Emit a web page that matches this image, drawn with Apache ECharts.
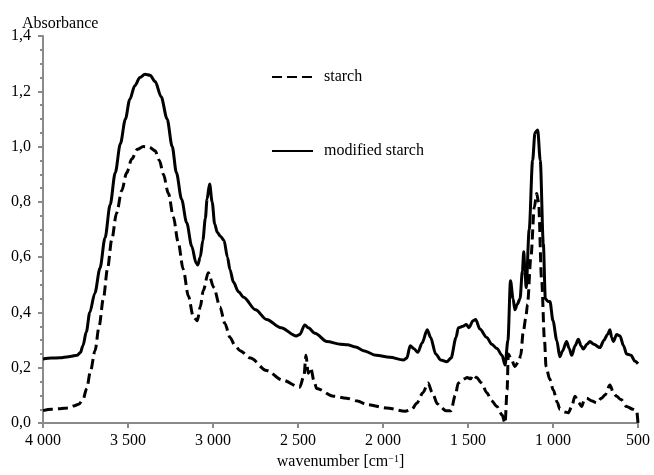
<!DOCTYPE html>
<html>
<head>
<meta charset="utf-8">
<script src="https://cdn.jsdelivr.net/npm/echarts@6/dist/echarts.min.js"></script>
<style>html,body{margin:0;padding:0;background:#fff}#c{width:654px;height:475px}</style>
</head>
<body>
<div id="c"></div>
<script>
const seriesNames = ['starch', 'modified starch'];
const xTicks = [4000, 3500, 3000, 2500, 2000, 1500, 1000, 500];
const yTicks = [0, 0.2, 0.4, 0.6, 0.8, 1.0, 1.2, 1.4];

const starchWn = [4000,3950,3900,3850,3820,3790,3765,3743,3720,3694,3670,3645,3620,3596,3567,3537,3508,3478,3445,3410,3375,3341,3315,3292,3262,3233,3205,3175,3145,3116,3092,3075,3057,3028,2995,2959,2930,2900,2870,2841,2780,2685,2590,2490,2465,2453,2440,2425,2405,2390,2290,2215,2150,2095,1980,1870,1830,1800,1765,1735,1710,1680,1665,1630,1600,1575,1557,1520,1505,1485,1470,1450,1420,1390,1360,1330,1300,1282,1270,1263,1245,1224,1200,1190,1175,1160,1150,1130,1110,1096,1085,1067,1050,1041,1020,998,975,959,930,910,890,871,850,832,815,802,770,743,715,694,665,645,626,600,567,530,508,500];
const starchAbs = [0.045,0.05,0.052,0.055,0.062,0.068,0.085,0.125,0.19,0.262,0.35,0.45,0.56,0.662,0.76,0.84,0.905,0.955,0.99,1.0,0.998,0.985,0.95,0.9,0.83,0.745,0.655,0.556,0.46,0.385,0.37,0.42,0.48,0.544,0.49,0.42,0.36,0.31,0.28,0.262,0.235,0.19,0.155,0.13,0.17,0.245,0.18,0.2,0.15,0.125,0.097,0.09,0.08,0.067,0.055,0.043,0.05,0.073,0.11,0.145,0.11,0.07,0.06,0.045,0.045,0.1,0.145,0.16,0.165,0.16,0.175,0.165,0.145,0.11,0.08,0.06,0.03,0.0,0.12,0.25,0.23,0.205,0.225,0.245,0.33,0.38,0.43,0.6,0.78,0.83,0.8,0.52,0.3,0.205,0.16,0.12,0.075,0.05,0.04,0.037,0.06,0.097,0.075,0.06,0.085,0.09,0.08,0.073,0.09,0.102,0.138,0.11,0.097,0.085,0.06,0.05,0.045,0.0];

const modWn = [4000,3950,3900,3850,3800,3780,3765,3745,3725,3695,3665,3635,3605,3575,3545,3515,3490,3460,3430,3400,3370,3340,3305,3270,3240,3215,3185,3155,3125,3100,3090,3075,3060,3045,3035,3020,3005,2990,2975,2955,2935,2915,2900,2880,2850,2820,2750,2685,2600,2510,2490,2460,2440,2400,2330,2250,2210,2160,2115,2040,1960,1880,1860,1840,1820,1795,1770,1740,1720,1690,1660,1625,1600,1570,1557,1530,1510,1495,1470,1455,1430,1390,1360,1330,1300,1282,1265,1250,1235,1224,1210,1194,1180,1172,1165,1158,1140,1120,1106,1090,1075,1057,1045,1030,1018,1000,978,960,945,920,905,890,870,851,835,822,800,783,760,724,700,680,665,655,645,625,606,585,567,540,520,500];
const modAbs = [0.232,0.235,0.236,0.24,0.245,0.255,0.28,0.33,0.4,0.47,0.56,0.67,0.79,0.905,1.01,1.1,1.17,1.22,1.25,1.262,1.258,1.235,1.18,1.1,1.0,0.905,0.81,0.725,0.64,0.58,0.572,0.6,0.66,0.74,0.81,0.865,0.8,0.72,0.69,0.675,0.66,0.6,0.555,0.51,0.475,0.455,0.41,0.375,0.345,0.315,0.32,0.355,0.345,0.325,0.295,0.285,0.283,0.275,0.262,0.245,0.238,0.228,0.235,0.28,0.27,0.256,0.29,0.338,0.31,0.25,0.228,0.222,0.235,0.31,0.345,0.35,0.357,0.345,0.37,0.375,0.34,0.31,0.285,0.27,0.245,0.21,0.3,0.515,0.45,0.41,0.43,0.45,0.55,0.62,0.55,0.49,0.7,0.95,1.05,1.06,0.95,0.65,0.45,0.44,0.44,0.37,0.3,0.24,0.26,0.295,0.27,0.245,0.28,0.303,0.28,0.268,0.285,0.295,0.285,0.273,0.3,0.32,0.338,0.31,0.295,0.32,0.315,0.28,0.25,0.245,0.225,0.215];

const FONT = 'Liberation Serif';
const chart = echarts.init(document.getElementById('c'), null, {renderer: 'canvas'});
const axisGray = '#8a8a8a';
const legendCommon = {
  itemWidth: 41, itemHeight: 10, itemGap: 0, icon: undefined,
  itemStyle: {opacity: 0},
  textStyle: {fontFamily: FONT, fontSize: 16, color: '#000', padding: [0, 0, 0, 6]}
};

chart.setOption({
  animation: false,
  backgroundColor: '#fff',
  title: {
    text: 'Absorbance', left: 17, top: 11,
    textStyle: {fontFamily: FONT, fontSize: 16, fontWeight: 'normal', color: '#000'}
  },
  legend: [
    Object.assign({data: [seriesNames[0]], left: 266, top: 64}, legendCommon),
    Object.assign({data: [seriesNames[1]], left: 266, top: 138}, legendCommon)
  ],
  grid: {left: 43, right: 16, top: 36, bottom: 41, containLabel: false},
  xAxis: {
    type: 'value', inverse: true, min: xTicks[xTicks.length-1], max: xTicks[0], interval: 500,
    name: 'wavenumber [cm{sup|−1}]', nameLocation: 'middle', nameGap: 29,
    nameTextStyle: {fontFamily: FONT, fontSize: 16, color: '#000',
      rich: {sup: {fontFamily: FONT, fontSize: 10, color: '#000', verticalAlign: 'top', padding: [0,0,6,0]}}},
    axisLine: {show: true, onZero: false, lineStyle: {color: axisGray, width: 2}},
    axisTick: {show: true, length: 5, lineStyle: {color: axisGray, width: 2}},
    axisLabel: {fontFamily: FONT, fontSize: 16, color: '#000', margin: 10,
      formatter: v => String(v).replace(/\B(?=(\d{3})+(?!\d))/g, ' ')},
    splitLine: {show: false}
  },
  yAxis: {
    type: 'value', min: yTicks[0], max: yTicks[yTicks.length-1], interval: 0.2,
    axisLine: {show: true, lineStyle: {color: axisGray, width: 2}},
    axisTick: {show: true, length: 5, lineStyle: {color: axisGray, width: 2}},
    minorTick: {show: true, splitNumber: 4, length: 3, lineStyle: {color: axisGray, width: 2}},
    axisLabel: {fontFamily: FONT, fontSize: 16, color: '#000', margin: 12,
      formatter: v => v.toFixed(1).replace('.', ',')},
    splitLine: {show: false}
  },
  series: [
    {name: seriesNames[0], type: 'line', symbol: 'none', smooth: 0.3, smoothMonotone: 'x',
     data: starchWn.map((w, i) => [w, starchAbs[i]]),
     lineStyle: {color: '#000', width: 3, type: [10, 5]}, itemStyle: {color: '#000'}},
    {name: seriesNames[1], type: 'line', symbol: 'none', smooth: 0.3, smoothMonotone: 'x',
     data: modWn.map((w, i) => [w, modAbs[i]]),
     lineStyle: {color: '#000', width: 3, type: 'solid'}, itemStyle: {color: '#000'}}
  ]
});
</script>
</body>
</html>
